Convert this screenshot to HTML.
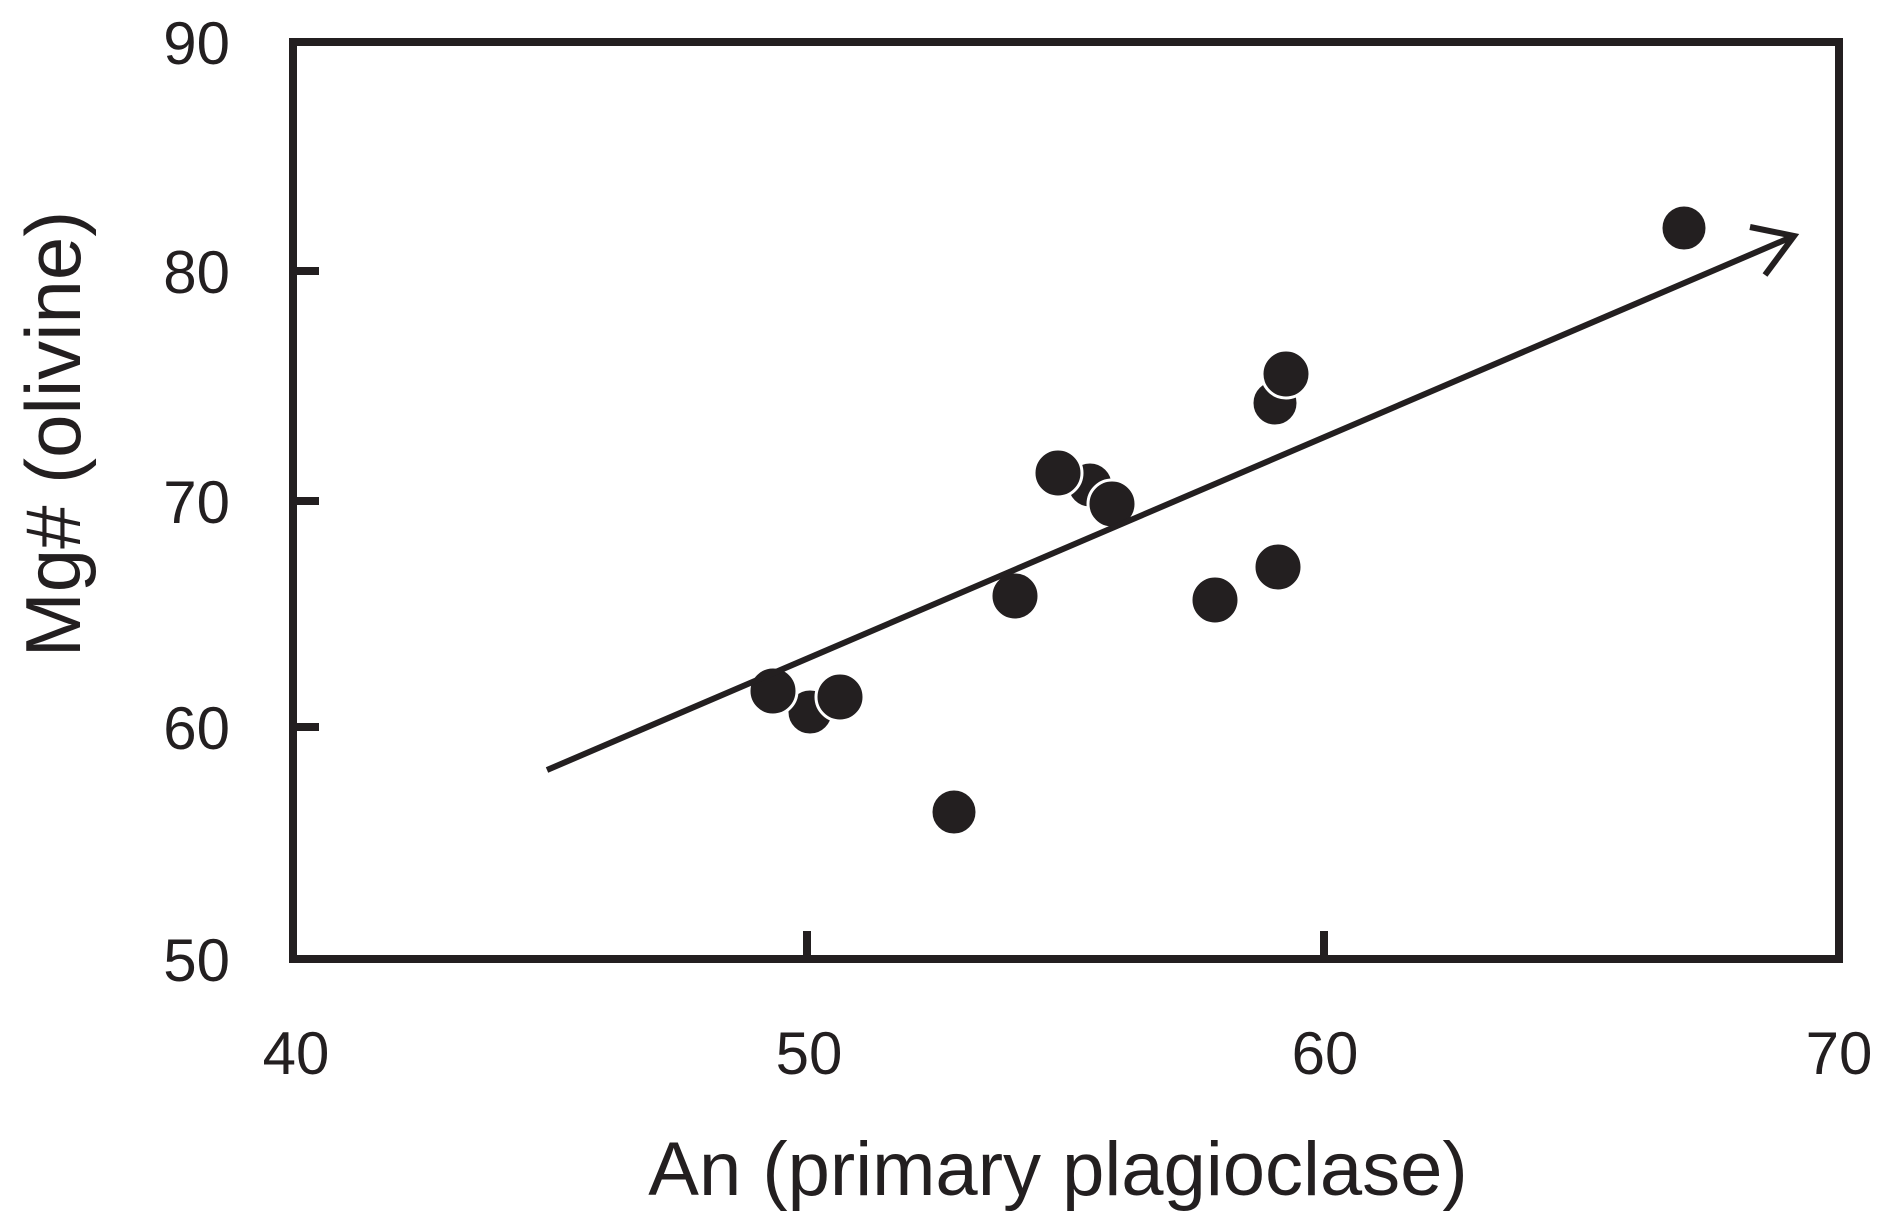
<!DOCTYPE html>
<html><head><style>body{margin:0;background:#fff}</style></head><body>
<svg width="1892" height="1227" xmlns="http://www.w3.org/2000/svg" font-family="Liberation Sans, sans-serif" fill="#231f20">
<rect x="293" y="42" width="1546" height="917" fill="none" stroke="#231f20" stroke-width="8"/>
<g stroke="#231f20" stroke-width="8">
<line x1="293" y1="271" x2="319" y2="271"/><line x1="293" y1="501" x2="319" y2="501"/><line x1="293" y1="727" x2="319" y2="727"/>
<line x1="807" y1="959" x2="807" y2="931"/><line x1="1324" y1="959" x2="1324" y2="931"/>
</g>
<g font-size="60" text-anchor="end">
<text x="230" y="64">90</text><text x="230" y="293">80</text><text x="230" y="523">70</text><text x="230" y="749">60</text><text x="230" y="981">50</text>
</g>
<g font-size="60" text-anchor="middle">
<text x="296" y="1074">40</text><text x="809" y="1074">50</text><text x="1325" y="1074">60</text><text x="1839" y="1074">70</text>
</g>
<text x="1058" y="1195" font-size="76" text-anchor="middle">An (primary plagioclase)</text>
<text transform="translate(80,434) rotate(-90)" font-size="78" text-anchor="middle">Mg# (olivine)</text>
<g fill="#231f20" stroke="#fff" stroke-width="3">
<circle cx="954" cy="812" r="23"/>
<circle cx="810" cy="712" r="23"/>
<circle cx="773" cy="691" r="24"/>
<circle cx="840" cy="697" r="24"/>
<circle cx="1015" cy="596" r="24"/>
<circle cx="1215" cy="600" r="24"/>
<circle cx="1278" cy="567" r="24"/>
<circle cx="1090" cy="485" r="23"/>
<circle cx="1058" cy="473" r="24"/>
<circle cx="1112" cy="504" r="24"/>
<circle cx="1275" cy="403" r="23"/>
<circle cx="1286" cy="374" r="24"/>
<circle cx="1684" cy="228" r="23"/>
</g>
<g stroke="#231f20" stroke-width="6" fill="none">
<line x1="547" y1="770" x2="1794" y2="236"/>
<polyline points="1750,227 1794,236 1765,275"/>
</g>
</svg>
</body></html>
